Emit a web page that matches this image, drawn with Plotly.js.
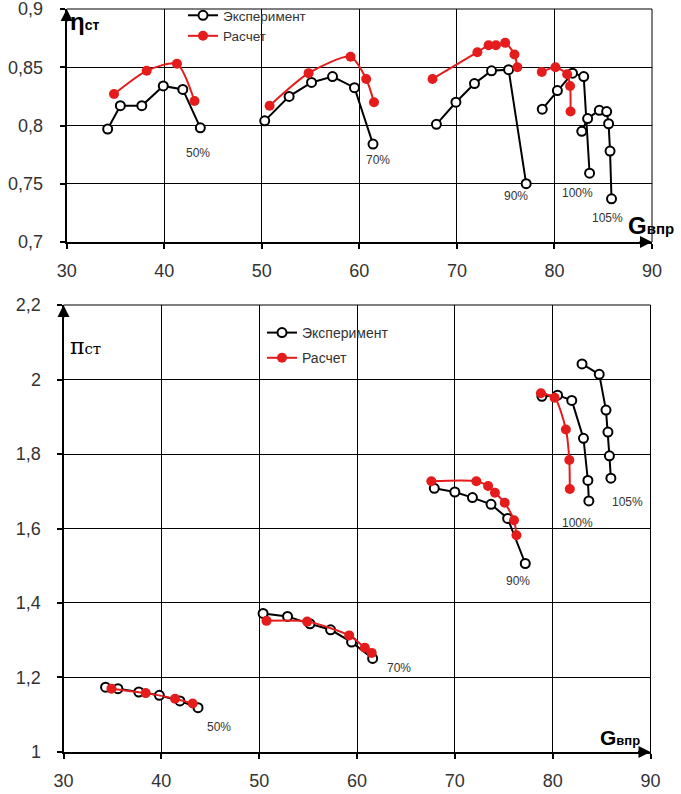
<!DOCTYPE html>
<html>
<head>
<meta charset="utf-8">
<script src="https://cdn.plot.ly/plotly-3.0.1.min.js"></script>
<style>html,body{margin:0;padding:0;background:#fff}#chart{width:681px;height:794px}</style>
</head>
<body>
<div id="chart"></div>
<script>
// ---- data ----
const seriesNames = ['Эксперимент', 'Расчет'];
const speedLabels = ['50%', '70%', '90%', '100%', '105%'];

// efficiency η_ст vs G_впр (null separates speed lines)
const etaExpX = [34.2,35.5,37.7,39.9,41.9,43.7, null, 50.3,52.8,55.1,57.25,59.5,61.4, null, 67.9,69.9,71.8,73.55,75.3,77.1, null, 78.75,80.3,81.85,83.0,83.6, null, 82.8,83.4,84.6,85.35,85.55,85.7,85.85];
const etaExpY = [0.797,0.817,0.817,0.834,0.831,0.798, null, 0.804,0.825,0.837,0.842,0.8325,0.784, null, 0.801,0.820,0.836,0.847,0.848,0.750, null, 0.814,0.830,0.845,0.842,0.759, null, 0.795,0.806,0.813,0.812,0.8015,0.778,0.737];
const etaCalcX = [34.85,38.2,41.3,43.1, null, 50.8,54.8,59.1,60.7,61.5, null, 67.5,72.1,73.25,74.0,74.95,75.9,76.2, null, 78.7,80.1,81.3,81.6,81.65];
const etaCalcY = [0.827,0.847,0.853,0.821, null, 0.817,0.845,0.859,0.840,0.820, null, 0.840,0.863,0.869,0.869,0.871,0.861,0.850, null, 0.846,0.850,0.844,0.834,0.812];

// pressure ratio π_ст vs G_впр
const piExpX = [34.3,35.56,37.7,39.8,41.9,43.75, null, 50.4,52.9,55.2,57.3,59.45,61.6, null, 67.9,70.0,71.8,73.7,75.4,77.2, null, 78.9,80.5,81.95,83.15,83.6,83.7, null, 83.0,84.76,85.45,85.65,85.8,85.95];
const piExpY = [1.174,1.170,1.161,1.152,1.137,1.119, null, 1.372,1.364,1.344,1.328,1.295,1.251, null, 1.708,1.698,1.683,1.665,1.627,1.506, null, 1.955,1.958,1.944,1.842,1.729,1.674, null, 2.042,2.014,1.918,1.859,1.795,1.735];
const piCalcX = [34.9,38.4,41.4,43.2, null, 50.75,54.9,59.2,60.8,61.5, null, 67.6,72.2,73.4,74.1,75.1,76.05,76.3, null, 78.8,80.2,81.35,81.7,81.75];
const piCalcY = [1.170,1.158,1.143,1.130, null, 1.352,1.350,1.313,1.280,1.266, null, 1.727,1.727,1.714,1.696,1.669,1.622,1.582, null, 1.963,1.951,1.866,1.784,1.706];

// ticks
const gTicks = [30, 40, 50, 60, 70, 80, 90];
const gTickText = ['30', '40', '50', '60', '70', '80', '90'];
const etaTicks = [0.7, 0.75, 0.8, 0.85, 0.9];
const etaTickText = ['0,7', '0,75', '0,8', '0,85', '0,9'];
const piTicks = [1, 1.2, 1.4, 1.6, 1.8, 2.0, 2.2];
const piTickText = ['1', '1,2', '1,4', '1,6', '1,8', '2', '2,2'];

// ---- styling ----
const FONT = '"Liberation Sans", Arial, sans-serif';
const RED = 'rgb(228,28,28)';
const TXT = '#333';
const EPS = 1e-4;

const expStyle = {
  mode: 'lines+markers', line: {color: 'black', width: 2},
  marker: {symbol: 'circle', size: 9, color: 'white', line: {color: 'black', width: 2}},
  connectgaps: false, hoverinfo: 'skip'
};
const calcStyle = {
  mode: 'lines+markers', line: {color: RED, width: 2, shape: 'spline', smoothing: 0.7},
  marker: {symbol: 'circle', size: 10, color: RED},
  connectgaps: false, hoverinfo: 'skip'
};

const traces = [
  Object.assign({x: etaExpX, y: etaExpY, name: seriesNames[0], xaxis: 'x', yaxis: 'y', legend: 'legend', legendgroup: 'a'}, expStyle),
  Object.assign({x: etaCalcX, y: etaCalcY, name: seriesNames[1], xaxis: 'x', yaxis: 'y', legend: 'legend', legendgroup: 'b'}, calcStyle),
  Object.assign({x: piExpX, y: piExpY, name: seriesNames[0], xaxis: 'x2', yaxis: 'y2', legend: 'legend2', legendgroup: 'c'}, expStyle),
  Object.assign({x: piCalcX, y: piCalcY, name: seriesNames[1], xaxis: 'x2', yaxis: 'y2', legend: 'legend2', legendgroup: 'd'}, calcStyle)
];

const W = 681, H = 794;
// plot-area frames in page pixels: [left, right, bottom, top]
const topBox = [66.7, 652, 242, 9];
const botBox = [63.5, 650.5, 752, 305];
function xdom(b) { return [b[0] / W, b[1] / W]; }
function ydom(b) { return [1 - b[2] / H, 1 - b[3] / H]; }

const axBase = {
  showgrid: true, gridcolor: 'black', gridwidth: 1,
  showline: true, linecolor: 'black', linewidth: 2,
  ticks: 'outside', ticklen: 5, tickwidth: 2, tickcolor: 'black',
  zeroline: false, fixedrange: true, ticklabeloverflow: 'allow',
  tickfont: {family: FONT, size: 18, color: TXT}
};

const pctFont = {family: FONT, size: 12, color: TXT};
function pct(text, x, y, xr, yr) {
  return {text: text, x: x, y: y, xref: xr, yref: yr, showarrow: false, font: pctFont, xanchor: 'center', yanchor: 'middle'};
}
function arrow(x, y, xr, yr, ax, ay) {
  return {x: x, y: y, xref: xr, yref: yr, text: '', showarrow: true, arrowhead: 2, arrowsize: 1.2, arrowwidth: 2,
          arrowcolor: 'black', ax: ax, ay: ay, standoff: 0};
}

const annotations = [
  // speed labels, top chart
  pct(speedLabels[0], 43.45, 0.7765, 'x', 'y'),
  pct(speedLabels[1], 61.95, 0.7705, 'x', 'y'),
  pct(speedLabels[2], 76.1, 0.739, 'x', 'y'),
  pct(speedLabels[3], 82.35, 0.742, 'x', 'y'),
  pct(speedLabels[4], 85.4, 0.7205, 'x', 'y'),
  // speed labels, bottom chart
  pct(speedLabels[0], 45.9, 1.067, 'x2', 'y2'),
  pct(speedLabels[1], 64.25, 1.226, 'x2', 'y2'),
  pct(speedLabels[2], 76.5, 1.459, 'x2', 'y2'),
  pct(speedLabels[3], 82.5, 1.615, 'x2', 'y2'),
  pct(speedLabels[4], 87.6, 1.672, 'x2', 'y2'),
  // axis titles
  {text: '<b>η<span style="font-size:14px">ст</span></b>', x: 30.1, y: 0.889, xref: 'x', yref: 'y',
   xanchor: 'left', yanchor: 'middle', showarrow: false, font: {family: FONT, size: 24, color: 'black'}},
  {text: '<b>G<span style="font-size:15px">впр</span></b>', x: 87.3, y: 0.714, xref: 'x', yref: 'y',
   xanchor: 'left', yanchor: 'middle', showarrow: false, font: {family: FONT, size: 24, color: 'black'}},
  {text: 'π<span style="font-size:15px">ст</span>', x: 30.5, y: 2.09, xref: 'x2', yref: 'y2',
   xanchor: 'left', yanchor: 'middle', showarrow: false, font: {family: '"DejaVu Serif", serif', size: 22, color: 'black'}},
  {text: '<b>G<span style="font-size:13px">впр</span></b>', x: 84.6, y: 1.038, xref: 'x2', yref: 'y2',
   xanchor: 'left', yanchor: 'middle', showarrow: false, font: {family: FONT, size: 21, color: 'black'}},
  // axis arrows
  arrow(30, 0.9, 'x', 'y', 0, 14),
  arrow(90, 0.7, 'x', 'y', -14, 0),
  arrow(30, 2.2, 'x2', 'y2', 0, 14),
  arrow(90, 1.0, 'x2', 'y2', -14, 0)
];

// thin frame lines along the top and right edges of each plot area (paper refs, not clipped)
function edges(b) {
  const ln = {color: 'black', width: 1};
  const xd = xdom(b), yd = ydom(b);
  return [
    {type: 'line', xref: 'paper', yref: 'paper', x0: xd[0], x1: xd[1], y0: yd[1], y1: yd[1], line: ln, layer: 'above'},
    {type: 'line', xref: 'paper', yref: 'paper', x0: xd[1], x1: xd[1], y0: yd[0], y1: yd[1], line: ln, layer: 'above'}
  ];
}

const legendBase = {
  bgcolor: 'rgba(0,0,0,0)', borderwidth: 0, orientation: 'v',
  xanchor: 'left', yanchor: 'top',
  itemclick: false, itemdoubleclick: false
};

const layout = {
  width: W, height: H,
  margin: {l: 0, r: 0, t: 0, b: 0},
  paper_bgcolor: 'white', plot_bgcolor: 'white',
  separators: ', ',
  showlegend: true,
  xaxis: Object.assign({}, axBase, {domain: xdom(topBox), range: [30 - EPS, 90 + EPS], anchor: 'y',
    tickvals: gTicks, ticktext: gTickText, ticklabelstandoff: 6}),
  yaxis: Object.assign({}, axBase, {domain: ydom(topBox), range: [0.7 - EPS, 0.9 + EPS], anchor: 'x',
    tickvals: etaTicks, ticktext: etaTickText, ticklabelstandoff: 13}),
  xaxis2: Object.assign({}, axBase, {domain: xdom(botBox), range: [30 - EPS, 90 + EPS], anchor: 'y2',
    tickvals: gTicks, ticktext: gTickText, ticklabelstandoff: 6}),
  yaxis2: Object.assign({}, axBase, {domain: ydom(botBox), range: [1 - EPS, 2.2 + EPS], anchor: 'x2',
    tickvals: piTicks, ticktext: piTickText, ticklabelstandoff: 12}),
  legend: Object.assign({}, legendBase, {x: 183 / W, y: 1, tracegroupgap: 0,
    font: {family: FONT, size: 13.5, color: TXT}}),
  legend2: Object.assign({}, legendBase, {x: 262 / W, y: 1 - 317 / H, tracegroupgap: 4,
    font: {family: FONT, size: 14, color: TXT}}),
  shapes: edges(topBox).concat(edges(botBox)),
  annotations: annotations
};

Plotly.newPlot('chart', traces, layout, {staticPlot: true, displayModeBar: false});
</script>
</body>
</html>
